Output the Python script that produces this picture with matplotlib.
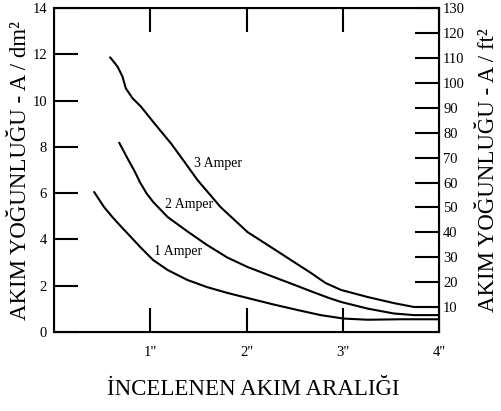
import matplotlib
matplotlib.use("Agg")
import matplotlib.pyplot as plt

plt.rcParams["font.family"] = ["Liberation Serif", "DejaVu Serif"]

# akım yoğunluğu eğrileri (x: inç, y: A/dm²)
x_1a = [0.417, 0.52, 0.61, 0.70, 0.80, 0.896, 1.03, 1.18, 1.385, 1.59, 1.80, 2.01, 2.28, 2.53, 2.77, 3.01, 3.26, 3.60, 4.0]
y_1a = [6.05, 5.40, 4.95, 4.54, 4.10, 3.67, 3.11, 2.68, 2.25, 1.94, 1.69, 1.47, 1.19, 0.95, 0.73, 0.58, 0.53, 0.55, 0.55]

x_2a = [0.677, 0.764, 0.833, 0.896, 0.96, 1.03, 1.18, 1.385, 1.59, 1.80, 2.01, 2.28, 2.49, 2.67, 2.85, 2.98, 3.26, 3.53, 3.74, 4.0]
y_2a = [8.18, 7.50, 6.98, 6.45, 6.00, 5.62, 4.97, 4.35, 3.76, 3.22, 2.81, 2.38, 2.05, 1.76, 1.48, 1.30, 1.01, 0.80, 0.73, 0.73]

x_3a = [0.583, 0.66, 0.712, 0.746, 0.816, 0.903, 1.042, 1.215, 1.354, 1.49, 1.73, 2.01, 2.35, 2.67, 2.82, 2.98, 3.26, 3.53, 3.74, 4.0]
y_3a = [11.87, 11.47, 11.03, 10.53, 10.10, 9.74, 9.02, 8.15, 7.36, 6.57, 5.40, 4.32, 3.41, 2.55, 2.12, 1.82, 1.51, 1.25, 1.08, 1.08]

etiketler = ["1 Amper", "2 Amper", "3 Amper"]
etiket_x = [1.29, 1.40, 1.70]
etiket_y = [3.46, 5.49, 7.30]

x_ticks = [1, 2, 3, 4]
x_labels = ['1"', '2"', '3"', '4"']
sol_ticks = [0, 2, 4, 6, 8, 10, 12, 14]
sag_ticks = [10, 20, 30, 40, 50, 60, 70, 80, 90, 100, 110, 120, 130]

DM2_TO_FT2 = 9.2903  # 1 A/dm² = 9.29 A/ft²

fig = plt.figure(figsize=(5.01, 4.11), dpi=100)
ax = fig.add_axes([0.1078, 0.1922, 0.7685, 0.7883])

for xs, ys in [(x_1a, y_1a), (x_2a, y_2a), (x_3a, y_3a)]:
    ax.plot(xs, ys, color="black", lw=1.5, solid_capstyle="round", solid_joinstyle="round")

for t, tx, ty in zip(etiketler, etiket_x, etiket_y):
    ax.text(tx, ty, t, fontsize=10, ha="center", va="center")

ax.set_xlim(0, 4)
ax.set_ylim(0, 14)
ax.set_xticks(x_ticks)
ax.set_xticklabels(x_labels)
ax.set_yticks(sol_ticks)
ax.tick_params(axis="both", direction="in", length=17, width=1.5, labelsize=10.5)
ax.tick_params(axis="x", top=True, pad=10)
ax.tick_params(axis="y", pad=5)
for s in ax.spines.values():
    s.set_linewidth(1.5)

ax.set_ylabel("AKIM YOĞUNLUĞU - A / dm²", fontsize=16.5, labelpad=1)
ax.set_xlabel("İNCELENEN AKIM ARALIĞI", fontsize=16.5)
ax.xaxis.set_label_coords(0.517, -0.145)

ax2 = ax.twinx()
ax2.set_ylim(0, 14 * DM2_TO_FT2)
ax2.set_yticks(sag_ticks)
ax2.tick_params(axis="y", direction="in", length=17, width=1.5, labelsize=10.5, pad=3)
ax2.set_ylabel("AKIM YOĞUNLUĞU - A / ft²", fontsize=16.5, labelpad=9)

fig.savefig("out.png", dpi=100)
